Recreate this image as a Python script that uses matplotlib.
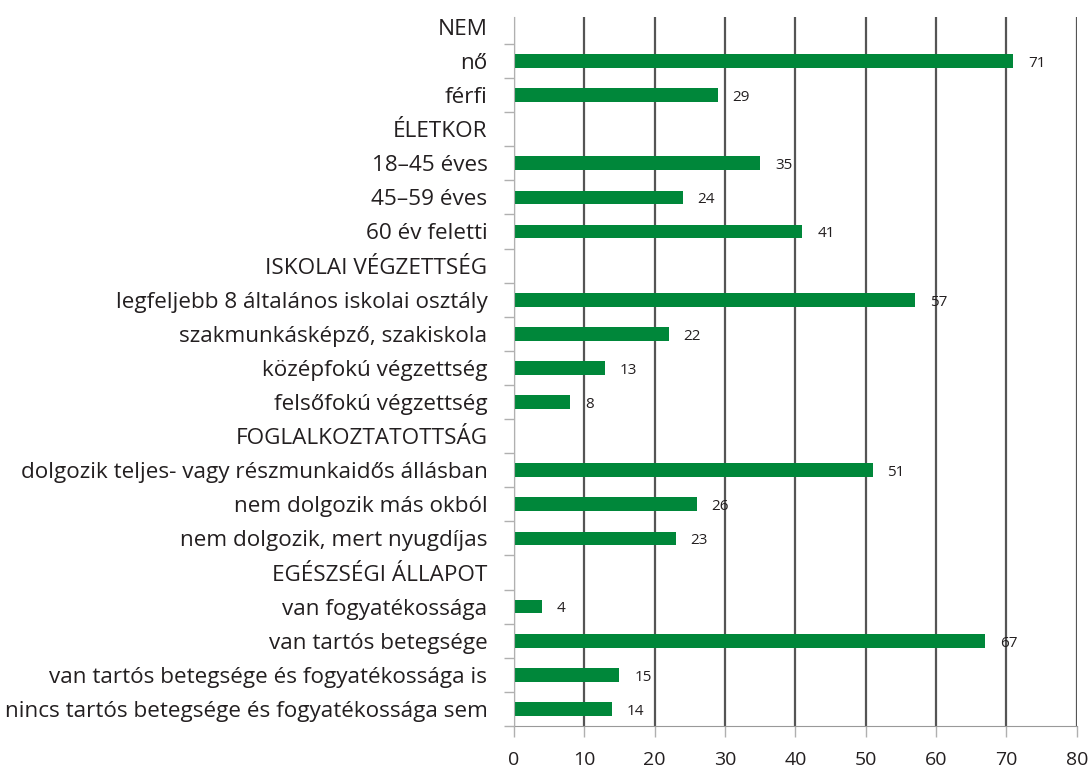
import matplotlib
matplotlib.use("Agg")
import matplotlib.pyplot as plt
from matplotlib.ticker import MultipleLocator

labels = [
    "NEM", "nő", "férfi",
    "ÉLETKOR", "18–45 éves", "45–59 éves", "60 év feletti",
    "ISKOLAI VÉGZETTSÉG", "legfeljebb 8 általános iskolai osztály",
    "szakmunkásképző, szakiskola", "középfokú végzettség", "felsőfokú végzettség",
    "FOGLALKOZTATOTTSÁG", "dolgozik teljes- vagy részmunkaidős állásban",
    "nem dolgozik más okból", "nem dolgozik, mert nyugdíjas",
    "EGÉSZSÉGI ÁLLAPOT", "van fogyatékossága", "van tartós betegsége",
    "van tartós betegsége és fogyatékossága is",
    "nincs tartós betegsége és fogyatékossága sem",
]
values = [None, 71, 29,
          None, 35, 24, 41,
          None, 57, 22, 13, 8,
          None, 51, 26, 23,
          None, 4, 67, 15, 14]
x_ticks = [0, 10, 20, 30, 40, 50, 60, 70, 80]

green = "#00873a"
text_col = "#231f20"

plt.rcParams["font.family"] = ["Open Sans", "DejaVu Sans"]

fig = plt.figure(figsize=(10.91, 7.71), dpi=100)
ax = fig.add_axes([0.471, 0.0584, 0.516, 0.9196])

for i, v in enumerate(values):
    if v is None:
        continue
    ax.barh(i, v, height=0.4, color=green, zorder=3)
    ax.text(v + 2.1, i + 0.07, str(v), ha="left", va="center",
            fontsize=11, color=text_col)

ax.set_xlim(0, 80)
ax.set_ylim(20.5, -0.29)
ax.set_xticks(x_ticks)
ax.set_yticks(range(len(labels)))
ax.set_yticklabels(labels, fontsize=16.2, color=text_col)
ax.yaxis.set_minor_locator(MultipleLocator(1, offset=0.5))
ax.tick_params(axis="y", which="major", length=0, pad=19)
ax.tick_params(axis="y", which="minor", length=7, color="#b0b0b0", width=1)
ax.tick_params(axis="x", length=8, color="#b0b0b0", width=1, labelsize=14,
               labelcolor=text_col, pad=10)

ax.grid(axis="x", color="#555555", linewidth=1.6, zorder=1)
for s in ("top", "right"):
    ax.spines[s].set_visible(False)
ax.spines["left"].set_color("#b0b0b0")
ax.spines["bottom"].set_color("#999999")
ax.spines["left"].set_zorder(4)

fig.savefig("out.png", dpi=100, facecolor="white")
